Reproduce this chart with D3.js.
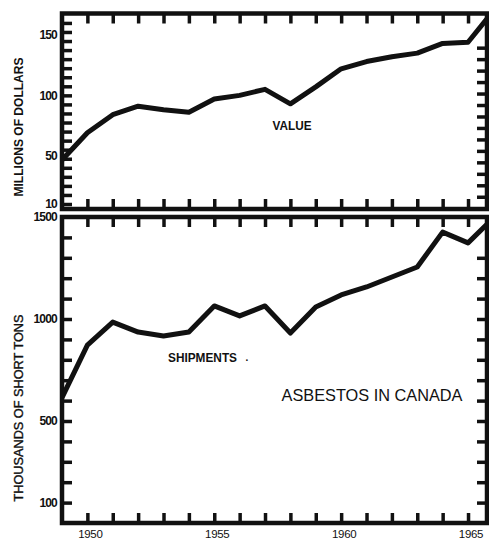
<!DOCTYPE html>
<html><head><meta charset="utf-8">
<script src="https://cdn.jsdelivr.net/npm/d3@7"></script>
<style>html,body{margin:0;padding:0;background:#fff;} svg{display:block}</style>
</head><body>
<svg id="c" width="489" height="540" viewBox="0 0 489 540"></svg>
<script>
// ---- data ----
const years = [1949,1950,1951,1952,1953,1954,1955,1956,1957,1958,1959,1960,1961,1962,1963,1964,1965,1966];
const valueMillions = [46.5,69,84,91,88,86,97,100,105,93,107,122,128,132,135,143,144,170];
const shipmentsThousandTons = [615,872,985,936,917,936,1064,1015,1064,931,1059,1118,1157,1206,1255,1426,1373,1495];
const xTickYears = [1950,1951,1952,1953,1954,1955,1956,1957,1958,1959,1960,1961,1962,1963,1964,1965];
const xLabelYears = [1950,1955,1960,1965];
const valueTickLabels = [10,50,100,150];
const valueLeftTicks = [10,17.5,25,32.5,40,47.5,55,62.5,70,77.5,85,92.5,100,107.5,115,122.5,130,137.5,145,152.5,160];
const valueRightTicks = [16,25.5,35,44.5,54,63.5,73,82.5,92,101.5,111,120.5,130,139.5];
const shipTickLabels = [100,500,1000,1500];
const shipLeftTicks = [100,200,300,400,500,600,700,800,900,1000,1100,1200,1300,1400];
const shipRightTicks = [100,200,300,400,500,600,700,800,900,1000,1100,1200,1300];

// ---- layout ----
const svg = d3.select("#c");
const L = 62, R = 487;
const T1 = 13.5, B1 = 209;
const T2 = 217, B2 = 523;
const INK = "#111";
const TICKLEN = 10;

const x = d3.scaleLinear().domain([1949, 1966]).range([62, 493.4]);
const yV = d3.scaleLinear().domain([10, 150]).range([204, 35]);
const yS = d3.scaleLinear().domain([0, 1500]).range([523, 217]);

const defs = svg.append("defs");
defs.append("clipPath").attr("id","clipTop").append("rect")
  .attr("x", L).attr("y", T1).attr("width", R - L).attr("height", B1 - T1);
defs.append("clipPath").attr("id","clipBot").append("rect")
  .attr("x", L).attr("y", T2).attr("width", R - L).attr("height", B2 - T2);

// frames
[[T1,B1],[T2,B2]].forEach(([t,b]) => {
  svg.append("rect").attr("x", L).attr("y", t).attr("width", R - L).attr("height", b - t)
    .style("fill","none").style("stroke", INK).style("stroke-width", "4.5px");
});

// inward tick marks via d3 axes
function inward(g){
  g.select(".domain").remove();
  g.selectAll(".tick text").remove();
  g.selectAll(".tick line").style("stroke", INK).style("stroke-width", "3.5px");
}
[[T1, B1, yV, valueLeftTicks, valueRightTicks], [T2, B2, yS, shipLeftTicks, shipRightTicks]]
  .forEach(([t, b, ys, lt, rt]) => {
    svg.append("g").attr("transform", `translate(0,${t})`)
      .call(d3.axisTop(x).tickValues(xTickYears).tickSizeInner(-TICKLEN).tickSizeOuter(0)).call(inward);
    svg.append("g").attr("transform", `translate(0,${b})`)
      .call(d3.axisBottom(x).tickValues(xTickYears).tickSizeInner(-TICKLEN).tickSizeOuter(0)).call(inward);
    svg.append("g").attr("transform", `translate(${L},0)`)
      .call(d3.axisLeft(ys).tickValues(lt).tickSizeInner(-TICKLEN).tickSizeOuter(0)).call(inward);
    svg.append("g").attr("transform", `translate(${R},0)`)
      .call(d3.axisRight(ys).tickValues(rt).tickSizeInner(-TICKLEN).tickSizeOuter(0)).call(inward);
  });

// y labels
function labelAxis(yScale, vals){
  svg.append("g").selectAll("text").data(vals).join("text")
    .attr("x", L - 5).attr("y", d => yScale(d)).attr("dy", "0.35em")
    .attr("text-anchor", "end")
    .attr("font-family", "Liberation Sans, Arial, sans-serif")
    .attr("font-weight", "bold").attr("font-size", 12).attr("fill", INK)
    .attr("letter-spacing", -0.8)
    .text(d => d3.format("d")(d));
}
labelAxis(yV, valueTickLabels);
labelAxis(yS, shipTickLabels);

// x labels
svg.append("g").selectAll("text").data(xLabelYears).join("text")
  .attr("x", d => x(d) + 3).attr("y", 538)
  .attr("text-anchor", "middle")
  .attr("font-family", "Liberation Sans, Arial, sans-serif")
  .attr("font-size", 11.5).attr("fill", INK)
  .attr("letter-spacing", -0.3)
  .text(d => d3.format("d")(d));

// series
const lineV = d3.line().x((d,i) => x(years[i])).y(d => yV(d));
const lineS = d3.line().x((d,i) => x(years[i])).y(d => yS(d));
svg.append("path").datum(valueMillions).attr("clip-path","url(#clipTop)")
  .attr("d", lineV).attr("fill","none").attr("stroke", INK).attr("stroke-width", 5)
  .attr("stroke-linejoin","round");
svg.append("path").datum(shipmentsThousandTons).attr("clip-path","url(#clipBot)")
  .attr("d", lineS).attr("fill","none").attr("stroke", INK).attr("stroke-width", 5)
  .attr("stroke-linejoin","round");

// texts
function txt(s, xx, yy, size, weight, len, rot){
  const t = svg.append("text").text(s)
    .attr("font-family", "Liberation Sans, Arial, sans-serif")
    .attr("font-size", size).attr("font-weight", weight).attr("fill", INK)
    .attr("text-anchor", "middle");
  if (len) t.attr("textLength", len).attr("lengthAdjust", "spacingAndGlyphs");
  if (rot) t.attr("transform", `translate(${xx},${yy}) rotate(-90)`);
  else t.attr("x", xx).attr("y", yy);
  return t;
}
txt("MILLIONS OF DOLLARS", 23, 127, 12, "bold", 139, true);
txt("THOUSANDS OF SHORT TONS", 23, 408, 12.5, "normal", 187, true).attr("stroke", INK).attr("stroke-width", 0.35);
txt("VALUE", 292, 130, 12, "bold", 39);
txt("SHIPMENTS", 202.5, 362, 12, "bold", 69);
txt(".", 247, 361, 10, "bold");
txt("ASBESTOS IN CANADA", 372, 401, 17, "normal", 181);
</script>
</body></html>
